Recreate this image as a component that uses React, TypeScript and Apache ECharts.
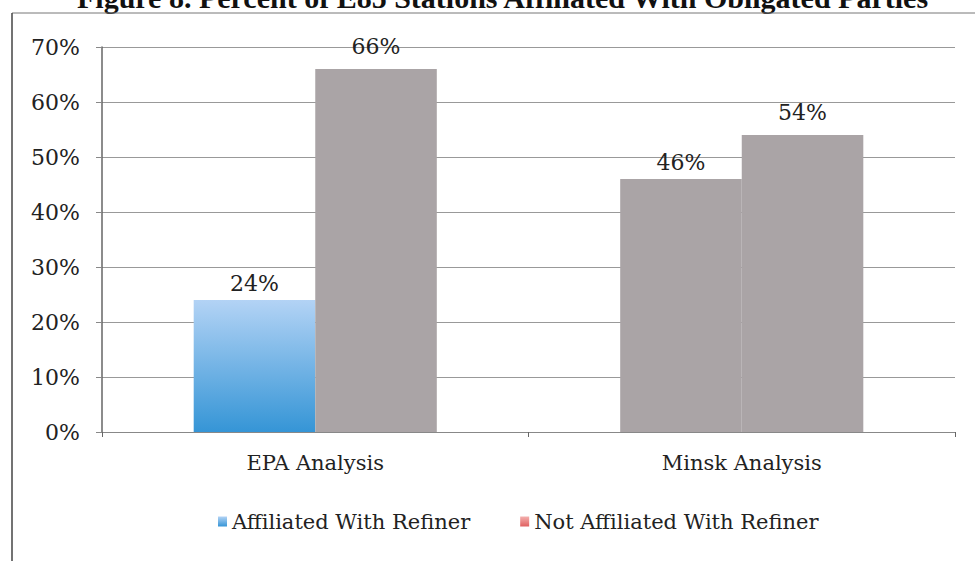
import React, { useEffect, useRef } from "react";
import * as echarts from "echarts";

const categories = ["EPA Analysis", "Minsk Analysis"];
const affiliated = [24, 46];
const notAffiliated = [66, 54];
const yTicks = [0, 10, 20, 30, 40, 50, 60, 70];
const titleText = "Figure 8. Percent of E85 Stations Affiliated With Obligated Parties";
const seriesNames = ["Affiliated With Refiner", "Not Affiliated With Refiner"];

const FONT = "DejaVu Serif";
const TITLE_FONT = "Liberation Serif";
const GRAY = "#aaa4a6";

export default function App() {
  const ref = useRef<HTMLDivElement>(null);
  useEffect(() => {
    if (!ref.current) return;
    const chart = echarts.init(ref.current, null, { renderer: "svg" });
    const blueGrad = new echarts.graphic.LinearGradient(0, 0, 0, 1, [
      { offset: 0, color: "#b3d3f5" },
      { offset: 1, color: "#3595d6" },
    ]);
    const redGrad = new echarts.graphic.LinearGradient(0, 0, 0, 1, [
      { offset: 0, color: "#f4b0ae" },
      { offset: 1, color: "#e06060" },
    ]);
    chart.setOption({
      animation: false,
      backgroundColor: "#ffffff",
      textStyle: { fontFamily: FONT },
      graphic: [
        {
          type: "text",
          left: 77,
          top: -18,
          style: {
            text: titleText,
            font: `bold 30px "${TITLE_FONT}"`,
            fill: "#111",
          },
        },
        {
          type: "line",
          shape: { x1: 12, y1: 13, x2: 975, y2: 13 },
          style: { stroke: "#777", lineWidth: 1 },
        },
        {
          type: "line",
          shape: { x1: 12, y1: 13, x2: 12, y2: 561 },
          style: { stroke: "#444", lineWidth: 1.5 },
        },
      ],
      grid: { left: 102, right: 20, top: 47, bottom: 129 },
      legend: {
        bottom: 24,
        left: 213,
        itemWidth: 9,
        itemHeight: 10,
        itemGap: 50,
        icon: "rect",
        textStyle: { fontFamily: FONT, fontSize: 21, color: "#222" },
        data: [
          { name: seriesNames[0], itemStyle: { color: blueGrad } },
          { name: seriesNames[1], itemStyle: { color: redGrad } },
        ],
      },
      xAxis: {
        type: "category",
        data: categories,
        axisLine: { lineStyle: { color: "#888" } },
        axisTick: { show: true, length: 5, lineStyle: { color: "#666" } },
        axisLabel: { fontFamily: FONT, fontSize: 21, color: "#222", margin: 20 },
      },
      yAxis: {
        type: "value",
        min: 0,
        max: 70,
        interval: 10,
        axisLine: { show: true, lineStyle: { color: "#666", width: 1.5 } },
        axisTick: { show: true, length: 6, lineStyle: { color: "#888" } },
        splitLine: { lineStyle: { color: "#999", width: 1 } },
        axisLabel: {
          fontFamily: FONT,
          fontSize: 22,
          color: "#222",
          margin: 22,
          formatter: (v: number) => (yTicks.includes(v) ? `${v}%` : ""),
        },
      },
      series: [
        {
          name: seriesNames[0],
          type: "bar",
          barGap: "0%",
          barCategoryGap: "43%",
          itemStyle: { color: blueGrad },
          data: affiliated.map((v, i) =>
            i === 1 ? { value: v, itemStyle: { color: GRAY } } : v
          ),
          label: {
            show: true,
            position: "top",
            distance: 6,
            formatter: "{c}%",
            fontFamily: FONT,
            fontSize: 22,
            color: "#222",
          },
        },
        {
          name: seriesNames[1],
          type: "bar",
          itemStyle: { color: GRAY },
          data: notAffiliated,
          label: {
            show: true,
            position: "top",
            distance: 12,
            formatter: "{c}%",
            fontFamily: FONT,
            fontSize: 22,
            color: "#222",
          },
        },
      ],
    });
    return () => chart.dispose();
  }, []);
  return <div ref={ref} style={{ width: 975, height: 561, position: "absolute", left: 0, top: 0 }} />;
}
